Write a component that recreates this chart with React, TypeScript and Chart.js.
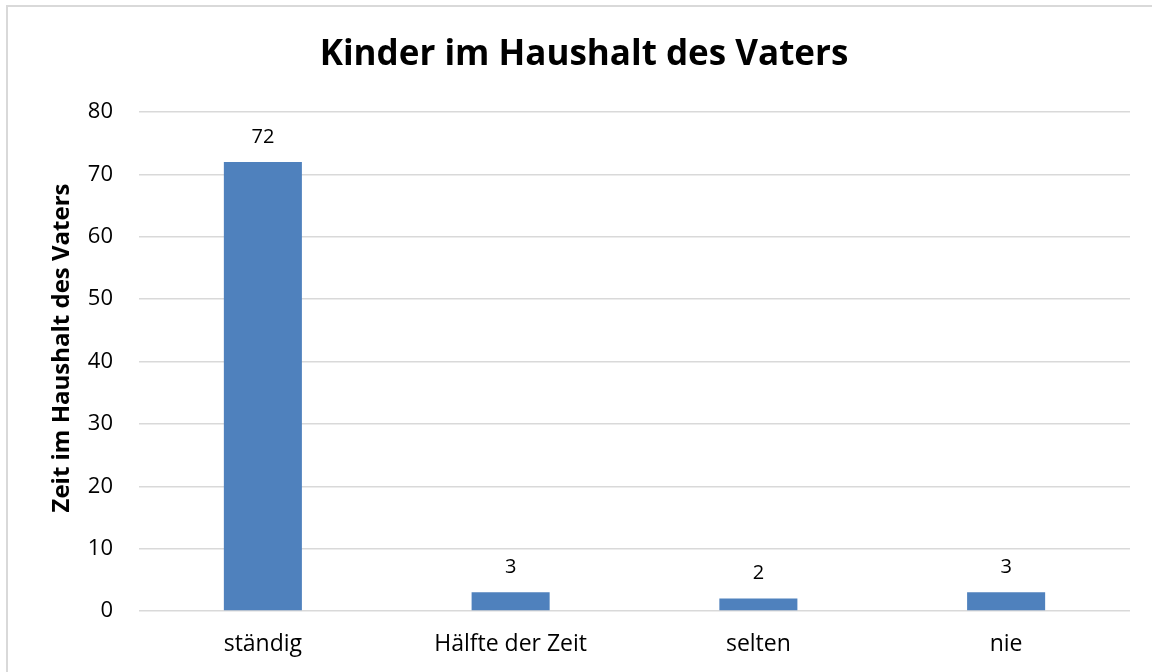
import React, { useEffect, useRef } from "react";
import { Chart, registerables } from "chart.js";

Chart.register(...registerables);

const categories = ["ständig", "Hälfte der Zeit", "selten", "nie"];
const values = [72, 3, 2, 3];
const chartTitle = "Kinder im Haushalt des Vaters";
const yAxisTitle = "Zeit im Haushalt des Vaters";
const yMin = 0;
const yMax = 80;
const yStep = 10;

const FONT = "'Open Sans', sans-serif";

const valueLabels = {
  id: "valueLabels",
  afterDatasetsDraw(chart: any) {
    const ctx = chart.ctx;
    const meta = chart.getDatasetMeta(0);
    ctx.save();
    ctx.fillStyle = "#000000";
    ctx.font = `20px ${FONT}`;
    ctx.textAlign = "center";
    ctx.textBaseline = "middle";
    meta.data.forEach((bar: any, i: number) => {
      ctx.fillText(String(values[i]), bar.x, bar.y - 25);
    });
    ctx.restore();
  },
};

// y-axis title centred on the whole chart frame (as in the reference)
const yTitlePlugin = {
  id: "yTitlePlugin",
  afterDraw(chart: any) {
    const ctx = chart.ctx;
    ctx.save();
    ctx.translate(62, 348);
    ctx.rotate(-Math.PI / 2);
    ctx.fillStyle = "#000000";
    ctx.font = `bold 24px ${FONT}`;
    ctx.textAlign = "center";
    ctx.textBaseline = "middle";
    ctx.fillText(yAxisTitle, 0, 0);
    ctx.restore();
  },
};

export default function App() {
  const ref = useRef<HTMLCanvasElement | null>(null);

  useEffect(() => {
    if (!ref.current) return;
    const chart = new Chart(ref.current, {
      type: "bar",
      data: {
        labels: categories,
        datasets: [
          {
            data: values,
            backgroundColor: "#4F81BD",
            borderWidth: 0,
            barPercentage: 0.63,
            categoryPercentage: 0.5,
          },
        ],
      },
      options: {
        animation: false,
        responsive: false,
        maintainAspectRatio: false,
        layout: { padding: { left: 38, right: 22, top: 0, bottom: 0 } },
        plugins: {
          legend: { display: false },
          tooltip: { enabled: false },
          title: {
            display: true,
            text: chartTitle,
            color: "#000000",
            font: { family: FONT, size: 35, weight: "bold" },
            padding: { top: 34, bottom: 36 },
          },
        },
        scales: {
          x: {
            grid: { display: false, drawTicks: false },
            border: { display: false },
            ticks: {
              color: "#000000",
              font: { family: FONT, size: 23 },
              padding: 20,
              maxRotation: 0,
            },
            afterFit: (scale: any) => {
              scale.height = 61;
            },
          },
          y: {
            min: yMin,
            max: yMax,
            grid: { color: "#d9d9d9", lineWidth: 1.5, drawTicks: false },
            border: { display: false },
            ticks: {
              stepSize: yStep,
              color: "#000000",
              font: { family: FONT, size: 22 },
              padding: 26,
            },
            title: { display: false, text: yAxisTitle },
            afterFit: (scale: any) => {
              scale.width = 101;
            },
          },
        },
      },
      plugins: [valueLabels, yTitlePlugin],
    });
    return () => chart.destroy();
  }, []);

  return (
    <div
      style={{
        position: "fixed",
        left: 0,
        top: 0,
        width: 1152,
        height: 672,
        overflow: "hidden",
        background: "#ffffff",
      }}
    >
      <div
        style={{
          position: "absolute",
          left: 6,
          top: 5,
          width: 1200,
          height: 720,
          border: "2px solid #d9d9d9",
          boxSizing: "border-box",
        }}
      />
      <canvas
        ref={ref}
        width={1152}
        height={672}
        style={{ position: "absolute", left: 0, top: 0 }}
      />
    </div>
  );
}
